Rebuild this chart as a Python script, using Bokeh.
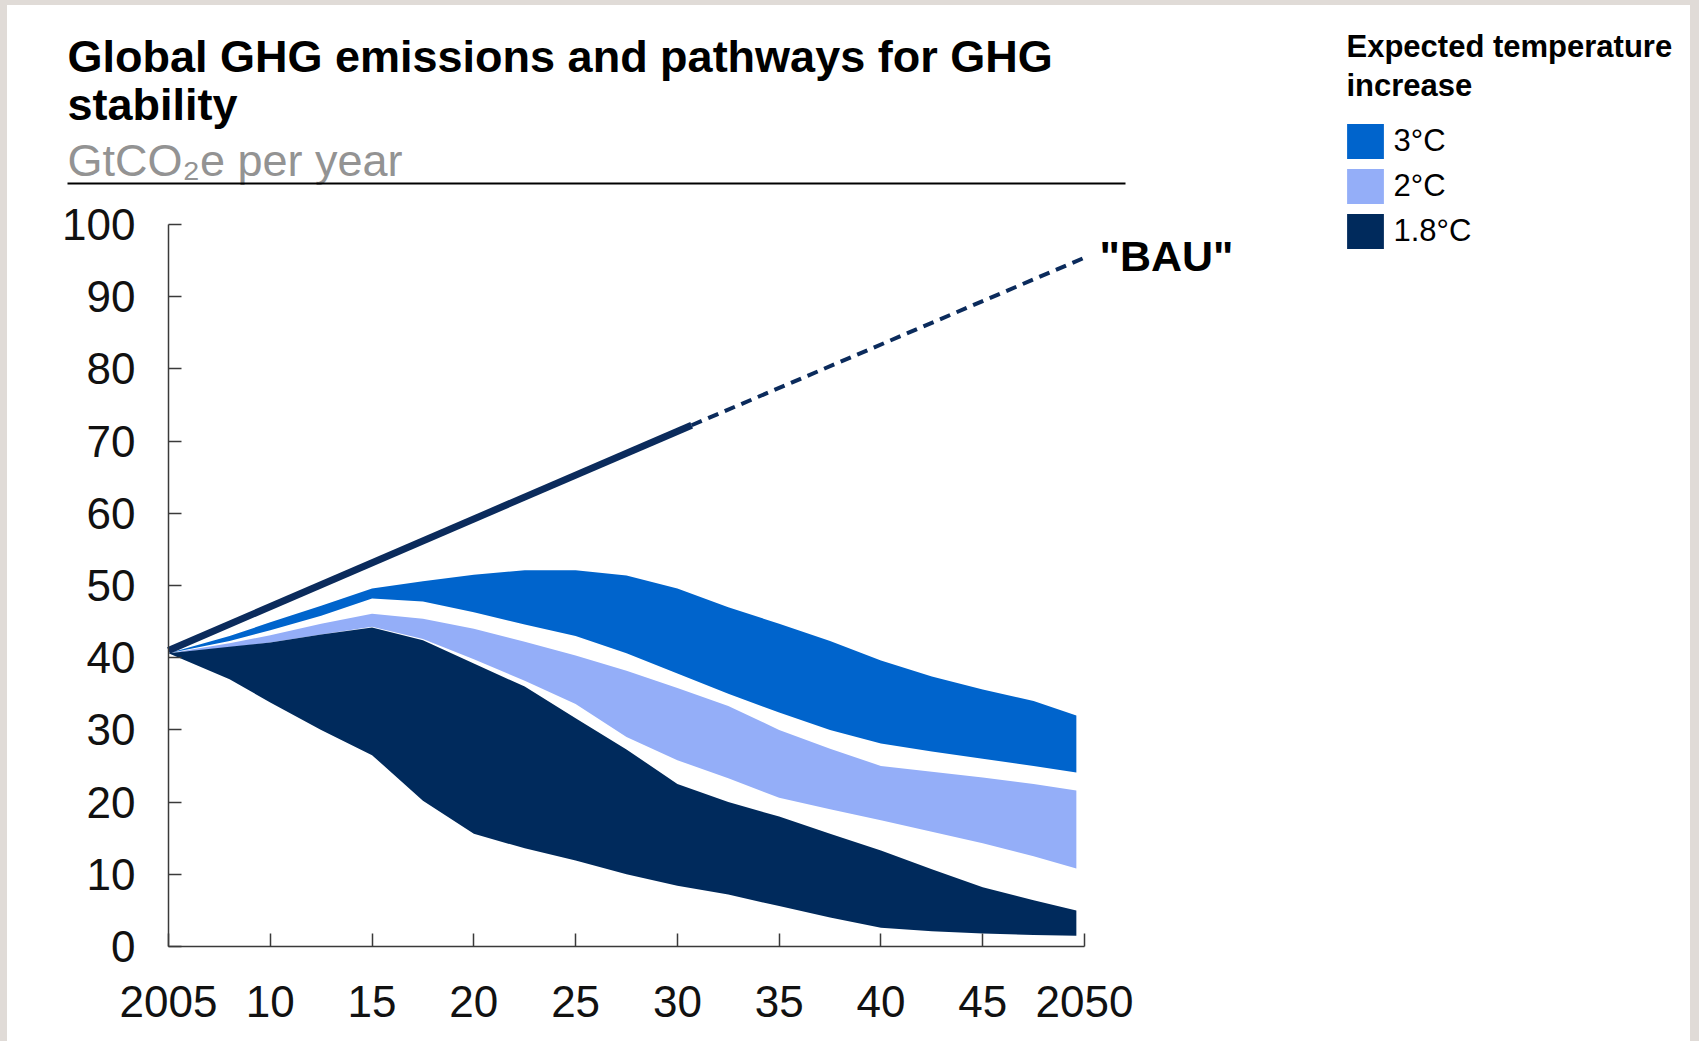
from bokeh.plotting import figure
from bokeh.models import Range1d, Label, Legend, LegendItem, BoxAnnotation, FixedTicker, Spacer
from bokeh.layouts import row, column
from bokeh.embed import file_html
from bokeh.resources import INLINE

# ---------------- data ----------------
years = [2005, 2008, 2010, 2012.5, 2015, 2017.5, 2020, 2022.5, 2025, 2027.5,
         2030, 2032.5, 2035, 2037.5, 2040, 2042.5, 2045, 2047.5, 2049.6]

t3_upper = [40.6, 43.0, 44.9, 47.2, 49.6, 50.6, 51.5, 52.1, 52.1, 51.4,
            49.6, 47.0, 44.7, 42.3, 39.6, 37.4, 35.6, 34.0, 32.0]
t3_lower = [40.6, 42.3, 43.8, 45.8, 48.2, 47.8, 46.3, 44.6, 43.0, 40.6,
            37.8, 35.0, 32.4, 30.0, 28.1, 27.0, 26.0, 25.0, 24.1]

t2_upper = [40.6, 42.0, 43.1, 44.7, 46.1, 45.4, 44.0, 42.2, 40.3, 38.2,
            35.8, 33.3, 30.0, 27.4, 25.0, 24.2, 23.4, 22.5, 21.6]
t2_lower = [40.6, 41.4, 42.1, 43.2, 44.3, 42.6, 39.8, 36.8, 33.6, 29.0,
            25.8, 23.3, 20.6, 19.0, 17.5, 15.9, 14.3, 12.5, 10.8]

t18_upper = [40.6, 41.5, 42.1, 43.2, 44.2, 42.4, 39.2, 36.0, 31.6, 27.3,
             22.5, 20.0, 18.0, 15.6, 13.3, 10.7, 8.2, 6.4, 5.0]
t18_lower = [40.6, 37.0, 33.8, 30.0, 26.5, 20.2, 15.6, 13.6, 11.9, 10.0,
             8.4, 7.2, 5.6, 4.0, 2.6, 2.1, 1.8, 1.6, 1.5]

bau_solid_years = [2005, 2030.7]
bau_solid_vals = [41.0, 72.2]
bau_dash_years = [2030.7, 2050]
bau_dash_vals = [72.2, 95.4]

x_ticks = [2005, 2010, 2015, 2020, 2025, 2030, 2035, 2040, 2045, 2050]
x_tick_labels = ["2005", "10", "15", "20", "25", "30", "35", "40", "45", "2050"]
y_ticks = [0, 10, 20, 30, 40, 50, 60, 70, 80, 90, 100]

legend_labels = ["3°C", "2°C", "1.8°C"]
title_lines = ["Global GHG emissions and pathways for GHG", "stability"]
subtitle = "GtCO₂e per year"
legend_title_lines = ["Expected temperature", "increase"]
bau_label = '"BAU"'

# ---------------- style ----------------
C3 = "#0064CC"
C2 = "#94AEF8"
C18 = "#002A5C"
NAVY = "#0B2B5C"
BEIGE = "#E0DBD7"
FONT = "Liberation Sans"

W, H = 1699, 1041
BL, BT, BR = 7, 5, 9
PW, PH = W - BL - BR, H - BT
# axis box in page pixels (2005..2050, 0..100)
PX0, PX1, PY0, PY1 = 168, 1084, 224, 946


def dx(px):
    return 2005 + (px - PX0) * 45.0 / (PX1 - PX0)


def dy(py):
    return (PY1 - py) * 100.0 / (PY1 - PY0)


# the frame covers the whole canvas; axes are pinned at fixed data locations
p = figure(width=PW, height=PH,
           x_range=Range1d(dx(BL), dx(BL + PW)), y_range=Range1d(dy(BT + PH), dy(BT)),
           output_backend="svg", toolbar_location=None,
           min_border=0, min_border_left=0, min_border_right=0,
           min_border_top=0, min_border_bottom=0)
p.outline_line_color = None
p.xgrid.visible = False
p.ygrid.visible = False
p.background_fill_color = "white"
p.border_fill_color = "white"

r3 = p.varea(x=years, y1=t3_lower, y2=t3_upper, fill_color=C3)
r2 = p.varea(x=years, y1=t2_lower, y2=t2_upper, fill_color=C2)
r18 = p.varea(x=years, y1=t18_lower, y2=t18_upper, fill_color=C18)

p.line(bau_solid_years, bau_solid_vals, line_width=7, line_color=NAVY)
p.line(bau_dash_years, bau_dash_vals, line_width=4, line_color=NAVY, line_dash="11 7")

# axes
for ax in (p.xaxis[0], p.yaxis[0]):
    ax.axis_line_color = "#3a3a3a"
    ax.axis_line_width = 1.5
    ax.major_tick_line_color = "#3a3a3a"
    ax.major_tick_line_width = 1.5
    ax.major_tick_in = 13
    ax.major_tick_out = 0
    ax.minor_tick_line_color = None
    ax.major_label_text_font = FONT
    ax.major_label_text_font_size = "44px"
    ax.major_label_text_color = "#111111"

p.xaxis.ticker = FixedTicker(ticks=x_ticks)
p.xaxis.major_label_overrides = {t: s for t, s in zip(x_ticks, x_tick_labels)}
p.xaxis.major_label_standoff = 39
p.xaxis.bounds = (2005, 2050)
p.xaxis.fixed_location = 0
p.yaxis.ticker = FixedTicker(ticks=y_ticks)
p.yaxis.major_label_standoff = 33
p.yaxis.bounds = (0, 100)
p.yaxis.fixed_location = 2005

# titles
p.add_layout(Label(x=dx(67), y=dy(56), text=title_lines[0], text_font=FONT,
                   text_font_size="45px", text_font_style="bold", text_color="black",
                   text_baseline="alphabetic", text_align="left"))
p.add_layout(Label(x=dx(67), y=dy(104), text=title_lines[1], text_font=FONT,
                   text_font_size="45px", text_font_style="bold", text_color="black",
                   text_baseline="alphabetic", text_align="left"))
p.add_layout(Label(x=dx(67), y=dy(160), text=subtitle, text_font=FONT,
                   text_font_size="45px", text_color="#939393",
                   text_baseline="alphabetic", text_align="left"))
p.add_layout(BoxAnnotation(left=dx(67), right=dx(1125), top=dy(182), bottom=dy(184),
                           fill_color="black", fill_alpha=1, line_color=None))

# BAU label
p.add_layout(Label(x=dx(1099), y=dy(255), text=bau_label, text_font=FONT,
                   text_font_size="43px", text_font_style="bold", text_color="black",
                   text_baseline="alphabetic", text_align="left"))

# legend title
p.add_layout(Label(x=dx(1346), y=dy(46), text=legend_title_lines[0], text_font=FONT,
                   text_font_size="31px", text_font_style="bold", text_color="black",
                   text_baseline="alphabetic", text_align="left"))
p.add_layout(Label(x=dx(1346), y=dy(85), text=legend_title_lines[1], text_font=FONT,
                   text_font_size="31px", text_font_style="bold", text_color="black",
                   text_baseline="alphabetic", text_align="left"))

legend = Legend(items=[LegendItem(label=legend_labels[0], renderers=[r3]),
                       LegendItem(label=legend_labels[1], renderers=[r2]),
                       LegendItem(label=legend_labels[2], renderers=[r18])],
                location=(1341.5 - BL, (BT + PH) - 252.5),
                glyph_width=46, glyph_height=44, label_standoff=6, spacing=1,
                padding=0, margin=0, border_line_color=None, background_fill_alpha=0,
                label_text_font=FONT, label_text_font_size="31px", label_height=44,
                label_text_color="black")
p.add_layout(legend)

top = Spacer(width=PW, height=BT, styles={"background-color": BEIGE})
left = Spacer(width=BL, height=H, styles={"background-color": BEIGE})
right = Spacer(width=BR, height=H, styles={"background-color": BEIGE})
lay = row(left, column(top, p, spacing=0), right, spacing=0)

open("out.html", "w").write(file_html(lay, INLINE))
